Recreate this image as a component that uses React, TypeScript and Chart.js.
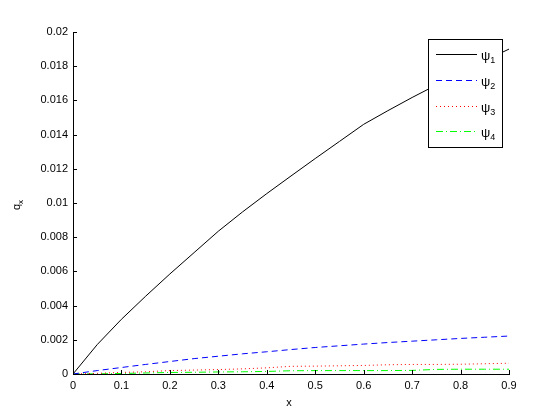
import React, { useEffect, useRef } from 'react';
import { Chart, registerables } from 'chart.js';

Chart.register(...registerables);

const xValues = [0, 0.05, 0.1, 0.15, 0.2, 0.25, 0.3, 0.35, 0.4, 0.45, 0.5, 0.55, 0.6, 0.65, 0.7, 0.75, 0.8, 0.85, 0.9];
const psi1 = [0, 0.00172, 0.0032, 0.00455, 0.00585, 0.0071, 0.00835, 0.00948, 0.01055, 0.01158, 0.0126, 0.0136, 0.0146, 0.0154, 0.01617, 0.0169, 0.01763, 0.01833, 0.019];
const psi2 = [0, 0.0002, 0.00038, 0.00056, 0.00073, 0.0009, 0.00104, 0.00118, 0.0013, 0.00143, 0.00155, 0.00165, 0.00175, 0.00184, 0.00192, 0.002, 0.00208, 0.00215, 0.00222];
const psi3 = [0, 0.00004, 0.00009, 0.00013, 0.0002, 0.00023, 0.00026, 0.0003, 0.00036, 0.00045, 0.00046, 0.00048, 0.0005, 0.00054, 0.00056, 0.00056, 0.00057, 0.0006, 0.00063];
const psi4 = [0, 0.00001, 0.00003, 0.00006, 0.00009, 0.0001, 0.00012, 0.00013, 0.00015, 0.00019, 0.0002, 0.0002, 0.0002, 0.0002, 0.00021, 0.00027, 0.00028, 0.00028, 0.00028];

const seriesNames = ['ψ', 'ψ', 'ψ', 'ψ'];
const seriesSubs = ['1', '2', '3', '4'];

const xTickLabels = ['0', '0.1', '0.2', '0.3', '0.4', '0.5', '0.6', '0.7', '0.8', '0.9'];
const yTickLabels = ['0', '0.002', '0.004', '0.006', '0.008', '0.01', '0.012', '0.014', '0.016', '0.018', '0.02'];

const xTitle = 'x';
const yTitleMain = 'q';
const yTitleSub = 'x';

const FONT = '"Liberation Sans", Arial, Helvetica, sans-serif';

const toPoints = (ys: number[]) => xValues.map((x, i) => ({ x, y: ys[i] }));

const matlabPlugin = {
  id: 'matlabDecor',
  afterDraw(chart: any) {
    const ctx = chart.ctx as CanvasRenderingContext2D;
    const area = chart.chartArea;
    const xs = chart.scales.x;
    const ys = chart.scales.y;
    ctx.save();
    // inward ticks
    ctx.strokeStyle = '#000';
    ctx.lineWidth = 1;
    ctx.setLineDash([]);
    ctx.beginPath();
    xs.ticks.forEach((t: any) => {
      const px = Math.round(xs.getPixelForValue(t.value)) + 0.5;
      ctx.moveTo(px, area.bottom);
      ctx.lineTo(px, area.bottom - 4);
    });
    ys.ticks.forEach((t: any) => {
      const py = Math.round(ys.getPixelForValue(t.value)) + 0.5;
      ctx.moveTo(area.left, py);
      ctx.lineTo(area.left + 4, py);
    });
    ctx.stroke();

    // axis titles
    ctx.fillStyle = '#000';
    ctx.font = `11px ${FONT}`;
    ctx.textAlign = 'center';
    ctx.textBaseline = 'middle';
    ctx.fillText(xTitle, (area.left + area.right) / 2 - 2, 403);

    ctx.save();
    ctx.translate(20, (area.top + area.bottom) / 2 + 2);
    ctx.rotate(-Math.PI / 2);
    ctx.textAlign = 'left';
    ctx.textBaseline = 'alphabetic';
    ctx.font = `11px ${FONT}`;
    const qw = ctx.measureText(yTitleMain).width;
    ctx.font = `8px ${FONT}`;
    const sw = ctx.measureText(yTitleSub).width;
    const startX = -(qw + sw) / 2;
    ctx.font = `11px ${FONT}`;
    ctx.fillText(yTitleMain, startX, 0);
    ctx.font = `8px ${FONT}`;
    ctx.fillText(yTitleSub, startX + qw, 3);
    ctx.restore();

    // legend
    const bx = 428.5, by = 39.5, bw = 74, bh = 108;
    ctx.fillStyle = '#fff';
    ctx.fillRect(bx, by, bw, bh);
    ctx.strokeStyle = '#000';
    ctx.lineWidth = 1;
    ctx.strokeRect(bx, by, bw, bh);
    chart.data.datasets.forEach((ds: any, i: number) => {
      const ry = Math.round(54 + i * 25.8) + 0.5;
      ctx.strokeStyle = ds.borderColor;
      ctx.lineWidth = 1;
      ctx.setLineDash(ds.borderDash || []);
      ctx.beginPath();
      ctx.moveTo(436, ry);
      ctx.lineTo(477, ry);
      ctx.stroke();
      ctx.setLineDash([]);
      ctx.fillStyle = '#000';
      ctx.textAlign = 'left';
      ctx.textBaseline = 'alphabetic';
      ctx.font = `13px ${FONT}`;
      ctx.fillText(seriesNames[i], 481, ry + 5);
      const w = ctx.measureText(seriesNames[i]).width;
      ctx.font = `9px ${FONT}`;
      ctx.fillText(seriesSubs[i], 481 + w, ry + 8);
    });
    ctx.restore();
  },
};

export default function App() {
  const ref = useRef<HTMLCanvasElement | null>(null);
  useEffect(() => {
    if (!ref.current) return;
    const chart = new Chart(ref.current, {
      type: 'line',
      data: {
        datasets: [
          { label: 'ψ1', data: toPoints(psi1), borderColor: '#000000', borderWidth: 1, pointRadius: 0, tension: 0, fill: false },
          { label: 'ψ2', data: toPoints(psi2), borderColor: '#0000ff', borderWidth: 1, borderDash: [6, 4], pointRadius: 0, tension: 0, fill: false },
          { label: 'ψ3', data: toPoints(psi3), borderColor: '#ff0000', borderWidth: 1, borderDash: [1, 3], pointRadius: 0, tension: 0, fill: false },
          { label: 'ψ4', data: toPoints(psi4), borderColor: '#00ff00', borderWidth: 1, borderDash: [7, 3, 1, 3], pointRadius: 0, tension: 0, fill: false },
        ],
      },
      options: {
        responsive: false,
        animation: false,
        layout: { padding: { top: 32, right: 51, left: 0, bottom: 0 } },
        plugins: { legend: { display: false }, tooltip: { enabled: false }, title: { display: false } },
        scales: {
          x: {
            type: 'linear',
            min: 0,
            max: 0.9,
            grid: { display: false, drawTicks: false },
            border: { display: true, color: '#000', width: 1 },
            ticks: {
              stepSize: 0.1,
              color: '#000',
              font: { family: FONT, size: 11 },
              padding: 5,
              maxRotation: 0,
              autoSkip: false,
              callback: (_v: any, i: number) => xTickLabels[i],
            },
            afterFit: (s: any) => { s.height = 46; },
          },
          y: {
            type: 'linear',
            min: 0,
            max: 0.02,
            grid: { display: false, drawTicks: false },
            border: { display: true, color: '#000', width: 1 },
            ticks: {
              stepSize: 0.002,
              color: '#000',
              font: { family: FONT, size: 11 },
              padding: 5,
              autoSkip: false,
              callback: (_v: any, i: number) => yTickLabels[i],
            },
            afterFit: (s: any) => { s.width = 73; },
          },
        },
      },
      plugins: [matlabPlugin],
    });
    return () => chart.destroy();
  }, []);
  return (
    <div style={{ position: 'fixed', left: 0, top: 0, width: 560, height: 420, background: '#fff' }}>
      <canvas ref={ref} width={560} height={420} style={{ display: 'block' }} />
    </div>
  );
}
